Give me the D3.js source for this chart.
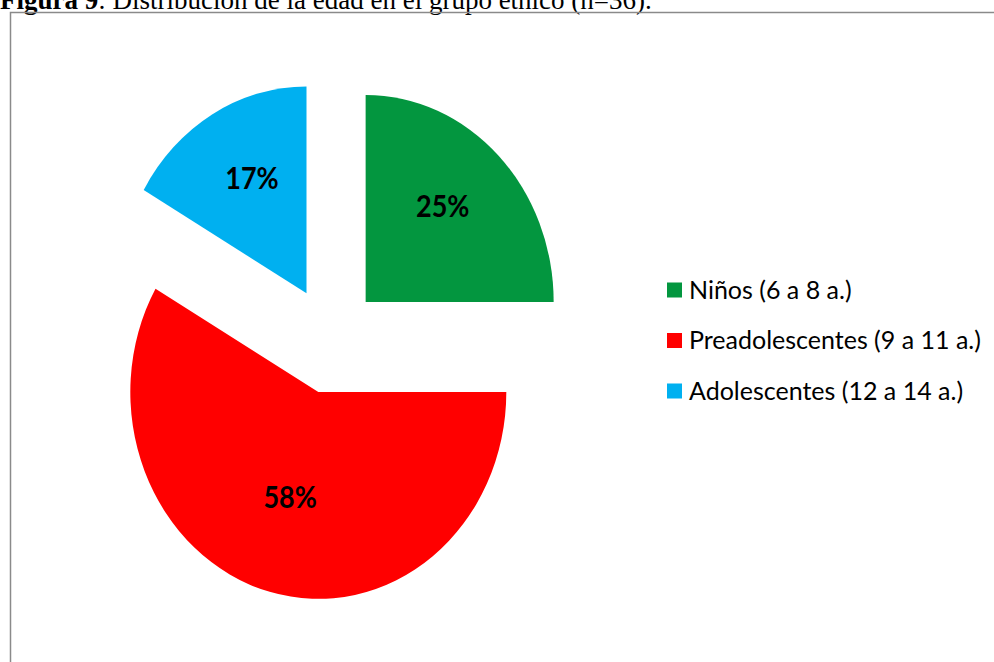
<!DOCTYPE html>
<html>
<head>
<meta charset="utf-8">
<script src="https://cdn.jsdelivr.net/npm/d3@7"></script>
<style>
  html, body { margin: 0; padding: 0; background: #fff; }
  svg { display: block; }
</style>
</head>
<body>
<svg id="chart" width="994" height="662"></svg>
<script>
// Age groups and number of children in each (n = 36)
const categories = ["Niños (6 a 8 a.)", "Preadolescentes (9 a 11 a.)", "Adolescentes (12 a 14 a.)"];
const counts = [9, 21, 6];
const colors = ["#03963F", "#FF0000", "#00B0F0"];
const titleBold = "Figura 9";
const titleRest = ": Distribución de la edad en el grupo étnico (n=36).";

const svg = d3.select("#chart");
const W = 994, H = 662;

// Caption above the frame
const title = svg.append("text")
  .attr("x", 0).attr("y", 9)
  .attr("font-family", "'Liberation Serif', 'Times New Roman', serif")
  .attr("font-size", 27)
  .attr("fill", "#000");
title.append("tspan").attr("font-weight", "bold").text(titleBold);
title.append("tspan").text(titleRest);

// Chart frame
svg.append("rect")
  .attr("x", 10.5).attr("y", 12.5)
  .attr("width", W + 20).attr("height", H + 20)
  .attr("fill", "none")
  .attr("stroke", "#8a8a8a")
  .attr("stroke-width", 1.5);

// Exploded pie
const total = d3.sum(counts);
const data = categories.map((c, i) => ({ name: c, value: counts[i], color: colors[i] }));
const radius = 188;
const explode = 49;
const stretchY = 1.1;

const pie = d3.pie().sort(null).value(d => d.value).startAngle(0).endAngle(2 * Math.PI);
const arc = d3.arc().innerRadius(0).outerRadius(radius);
const labelArc = d3.arc().innerRadius(radius * 0.58).outerRadius(radius * 0.58);

const g = svg.append("g")
  .attr("transform", `translate(331,340) scale(1,${stretchY})`);

const slices = g.selectAll("g.slice")
  .data(pie(data))
  .join("g")
  .attr("class", "slice")
  .attr("transform", d => {
    const mid = (d.startAngle + d.endAngle) / 2;
    return `translate(${explode * Math.sin(mid)},${-explode * Math.cos(mid)})`;
  });

slices.append("path")
  .attr("d", arc)
  .attr("fill", d => d.data.color);

slices.append("text")
  .attr("transform", d => {
    const [x, y] = labelArc.centroid(d);
    return `translate(${x},${y - 10})`;
  })
  .attr("text-anchor", "middle")
  .attr("dy", "0.36em")
  .attr("font-family", "Lato, 'Open Sans', sans-serif")
  .attr("font-weight", "bold")
  .attr("font-size", 27)
  .attr("fill", "#000")
  .text(d => Math.round(d.data.value / total * 100) + "%");

// Legend
const legend = svg.append("g").attr("transform", "translate(667,0)");
const rowY = d3.scalePoint().domain(categories).range([290, 391]);
const rows = legend.selectAll("g.row")
  .data(data)
  .join("g")
  .attr("class", "row")
  .attr("transform", d => `translate(0,${rowY(d.name)})`);

rows.append("rect")
  .attr("x", 0).attr("y", -7.5)
  .attr("width", 15).attr("height", 15)
  .attr("fill", d => d.color);

rows.append("text")
  .attr("x", 22)
  .attr("dy", "0.35em")
  .attr("font-family", "Lato, 'Open Sans', sans-serif")
  .attr("font-size", 25)
  .attr("fill", "#000")
  .text(d => d.name);
</script>
</body>
</html>
